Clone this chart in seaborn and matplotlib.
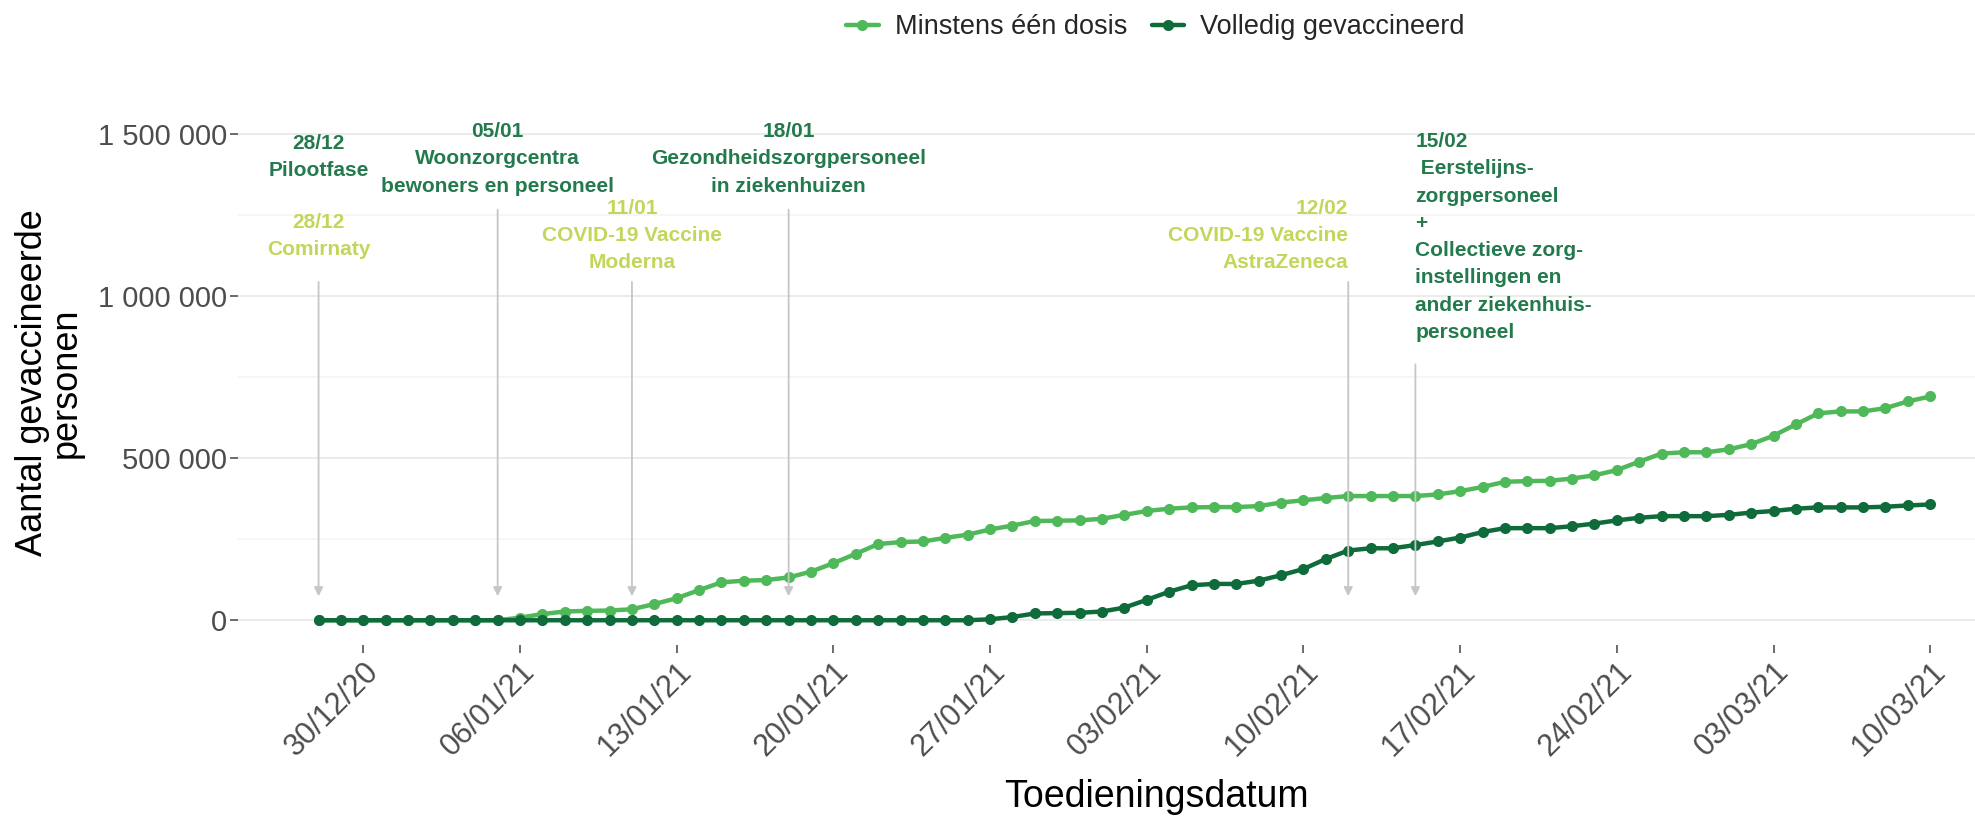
import pandas as pd
import matplotlib.pyplot as plt
import matplotlib.ticker as mticker
import matplotlib.dates as mdates
import seaborn as sns

# ─── Data (aantallen x 1000) ─────────────────────────────────────────────────
datums = pd.date_range('2020-12-28', '2021-03-10', freq='D')

minstens_een_dosis = [
    0, 0, 0, 0,
    0, 0, 0, 0, 0, 8, 19, 27, 29, 30, 34, 50, 68, 93, 117, 122, 124, 132, 150,
    176, 205, 235, 241, 243, 254, 264, 280, 292, 306, 307, 308,
    313, 325, 337, 344, 348, 349, 349, 352, 363, 370, 377, 383, 383, 383, 383,
    388, 398, 411, 427, 429, 430, 437, 447, 463, 489, 514, 518, 518,
    527, 543, 569, 604, 638, 644, 644, 654, 675, 690,
]
volledig_gevaccineerd = [
    0, 0, 0, 0,
    0, 0, 0, 0, 0, 0, 0, 0, 0, 0, 0, 0, 0, 0, 0, 0, 0, 0, 0,
    0, 0, 0, 0, 0, 0, 0, 3, 10, 21, 22, 23,
    27, 39, 63, 88, 108, 112, 112, 122, 139, 158, 189, 215, 222, 222, 232,
    243, 255, 272, 284, 284, 284, 290, 298, 308, 316, 321, 321, 321,
    325, 332, 337, 344, 348, 348, 348, 350, 354, 357,
]

reeksen = ['Minstens één dosis', 'Volledig gevaccineerd']
kleuren = {'Minstens één dosis': '#4FB95A', 'Volledig gevaccineerd': '#0F6B3A'}

# mijlpalen: (datum, tekst, kleur, y-tekst, y-pijl-start, uitlijning)
kleur_fase = '#237A4C'
kleur_vaccin = '#C4D65A'
mijlpalen = [
    ('2020-12-28', '28/12\nPilootfase', kleur_fase, 1428, None, 'center'),
    ('2020-12-28', '28/12\nComirnaty', kleur_vaccin, 1185, 1043, 'center'),
    ('2021-01-05', '05/01\nWoonzorgcentra\nbewoners en personeel', kleur_fase, 1423, 1266, 'center'),
    ('2021-01-11', '11/01\nCOVID-19 Vaccine\nModerna', kleur_vaccin, 1187, 1043, 'center'),
    ('2021-01-18', '18/01\nGezondheidszorgpersoneel\nin ziekenhuizen', kleur_fase, 1423, 1266, 'center'),
    ('2021-02-12', '12/02\nCOVID-19 Vaccine\nAstraZeneca', kleur_vaccin, 1187, 1043, 'right'),
    ('2021-02-15', '15/02\n Eerstelijns-\nzorgpersoneel\n+\nCollectieve zorg-\ninstellingen en\n'
                   'ander ziekenhuis-\npersoneel', kleur_fase, 1182, 789, 'left'),
]

df = pd.DataFrame({
    'datum': list(datums) * 2,
    'aantal': [v * 1000 for v in minstens_een_dosis + volledig_gevaccineerd],
    'reeks': [reeksen[0]] * len(datums) + [reeksen[1]] * len(datums),
})

# ─── Plot ────────────────────────────────────────────────────────────────────
sns.set_theme(style='white')
plt.rcParams['font.family'] = ['Liberation Sans', 'DejaVu Sans']

fig, ax = plt.subplots(figsize=(19.75, 8.23), dpi=100)
fig.subplots_adjust(left=0.1205, right=1.0, top=0.854, bottom=0.216)

sns.lineplot(data=df, x='datum', y='aantal', hue='reeks', hue_order=reeksen,
             palette=kleuren, marker='o', markersize=8, markeredgewidth=0,
             linewidth=3.2, ax=ax)

# pijlen en teksten
for datum, tekst, kleur, y_tekst, y_pijl, uitlijning in mijlpalen:
    d = pd.Timestamp(datum)
    ax.text(d, y_tekst * 1000, tekst, color=kleur, fontsize=15, fontweight='bold',
            ha=uitlijning, va='center', multialignment=uitlijning, linespacing=1.55)
    if y_pijl is not None:
        ax.annotate('', xy=(d, 74000), xytext=(d, y_pijl * 1000),
                    arrowprops=dict(arrowstyle='-|>', color='#C6C6C6', lw=1.3,
                                    mutation_scale=13, shrinkA=0, shrinkB=0))

ax.set_xlim(pd.Timestamp('2020-12-28') - pd.Timedelta(days=3.6),
            pd.Timestamp('2020-12-28') + pd.Timedelta(days=74))
ax.set_ylim(-77000, 1542000)

tick_datums = pd.date_range('2020-12-30', '2021-03-10', freq='7D')
ax.xaxis.set_major_locator(mticker.FixedLocator(mdates.date2num(tick_datums)))
ax.xaxis.set_major_formatter(mdates.DateFormatter('%d/%m/%y'))
ax.yaxis.set_major_locator(mticker.MultipleLocator(500000))
ax.yaxis.set_minor_locator(mticker.MultipleLocator(250000))
ax.yaxis.set_major_formatter(mticker.FuncFormatter(
    lambda v, p: f'{int(v):,}'.replace(',', ' ')))

ax.grid(axis='y', which='major', color='#EBEBEB', linewidth=1.4)
ax.grid(axis='y', which='minor', color='#F4F4F4', linewidth=1.1)
ax.grid(axis='x', visible=False)
sns.despine(ax=ax, left=True, bottom=True)

ax.tick_params(axis='both', which='major', length=6, width=1.1, color='#444444',
               labelcolor='#4D4D4D', left=True, bottom=True)
ax.tick_params(axis='y', labelsize=21, pad=2)
ax.tick_params(axis='x', labelsize=22, pad=2)
ax.tick_params(axis='y', which='minor', left=False)
for lbl in ax.get_xticklabels():
    lbl.set_rotation(45)
    lbl.set_ha('right')
    lbl.set_rotation_mode('anchor')

ax.set_xlabel('Toedieningsdatum', fontsize=27, color='black')
ax.xaxis.set_label_coords(0.529, -0.255)
ax.set_ylabel('Aantal gevaccineerde\npersonen', fontsize=26, color='black',
              labelpad=10, linespacing=0.95)

sns.move_legend(ax, 'upper center', bbox_to_anchor=(0.585, 1.012),
                bbox_transform=fig.transFigure, ncol=2, frameon=False,
                title=None, fontsize=19.5, handlelength=1.2, columnspacing=0.9,
                handletextpad=0.6)

plt.savefig('out.png', dpi=100)
